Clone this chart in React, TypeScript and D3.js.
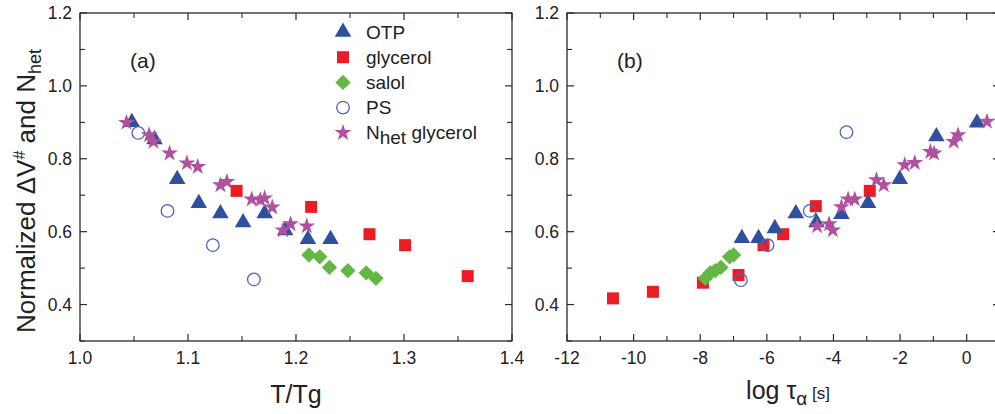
import React from "react";
import * as d3 from "d3";

// panel (a): T/Tg vs normalized value
const otpA = [[1.048, 0.9], [1.069, 0.853], [1.09, 0.744], [1.11, 0.678], [1.13, 0.65], [1.151, 0.625], [1.171, 0.65], [1.19, 0.603], [1.211, 0.579], [1.232, 0.579]];
const glyA = [[1.145, 0.712], [1.214, 0.668], [1.268, 0.593], [1.301, 0.563], [1.359, 0.478]];
const salolA = [[1.212, 0.536], [1.222, 0.531], [1.231, 0.502], [1.248, 0.493], [1.265, 0.487], [1.274, 0.472]];
const psA = [[1.054, 0.871], [1.081, 0.657], [1.123, 0.563], [1.161, 0.469]];
const nhetA = [[1.043, 0.899], [1.064, 0.865], [1.068, 0.847], [1.083, 0.815], [1.099, 0.788], [1.109, 0.778], [1.13, 0.728], [1.136, 0.737], [1.159, 0.689], [1.167, 0.687], [1.171, 0.692], [1.178, 0.667], [1.188, 0.604], [1.195, 0.621], [1.21, 0.615]];

// panel (b): log tau_alpha vs normalized value
const otpB = [[-6.75, 0.582], [-6.25, 0.582], [-5.76, 0.609], [-5.13, 0.65], [-4.51, 0.625], [-3.76, 0.648], [-2.96, 0.678], [-2.01, 0.744], [-0.91, 0.861], [0.31, 0.899]];
const glyB = [[-10.62, 0.417], [-9.42, 0.435], [-7.92, 0.46], [-6.85, 0.481], [-6.1, 0.563], [-5.51, 0.593], [-4.53, 0.67], [-2.91, 0.712]];
const salolB = [[-7.85, 0.472], [-7.7, 0.487], [-7.55, 0.493], [-7.38, 0.502], [-7.12, 0.531], [-7.0, 0.536]];
const psB = [[-3.61, 0.873], [-4.71, 0.657], [-5.98, 0.563], [-6.78, 0.467]];
const nhetB = [[-4.49, 0.615], [-4.13, 0.621], [-4.02, 0.604], [-3.76, 0.668], [-3.56, 0.689], [-3.36, 0.689], [-2.71, 0.742], [-2.49, 0.728], [-1.86, 0.783], [-1.56, 0.789], [-1.09, 0.819], [-0.98, 0.815], [-0.39, 0.847], [-0.26, 0.865], [0.61, 0.902]];

const yTicks = [0.4, 0.6, 0.8, 1.0, 1.2];
const xTicksA = [1.0, 1.1, 1.2, 1.3, 1.4];
const xTicksB = [-12, -10, -8, -6, -4, -2, 0];
const legendNames = ["OTP", "glycerol", "salol", "PS", "Nhet glycerol"];

const FONT = "Liberation Sans, Arial, sans-serif";
const AXIS = "#2a2a2a";
const C = { otp: "#2f4f9f", gly: "#ec1c24", salol: "#63b843", ps: "#4d63c4", nhet: "#b0509f" };

const triPath = d3.symbol(d3.symbolTriangle, 118)()!;
const sqPath = d3.symbol(d3.symbolSquare, 144)()!;
const diaPath = d3.symbol(d3.symbolDiamond2, 150)()!;
const starPath = d3.symbol(d3.symbolStar, 88)()!;

function Marker({ kind, x, y }: { kind: string; x: number; y: number }) {
  const t = `translate(${x},${y})`;
  if (kind === "otp") return <path d={triPath} transform={t} fill={C.otp} />;
  if (kind === "gly") return <path d={sqPath} transform={t} fill={C.gly} />;
  if (kind === "salol") return <path d={diaPath} transform={t} fill={C.salol} />;
  if (kind === "ps") return <circle cx={x} cy={y} r={6.3} fill="none" stroke={C.ps} strokeWidth={1.3} />;
  return <path d={starPath} transform={t} fill={C.nhet} />;
}

function Panel({ x0, x1, domain, ticks, minor, fmt, series, label }: any) {
  const top = 13, bottom = 341;
  const x = d3.scaleLinear().domain(domain).range([x0, x1]);
  const y = d3.scaleLinear().domain([0.3, 1.2]).range([bottom, top]);
  const yMinor = [0.3, 0.5, 0.7, 0.9, 1.1];
  return (
    <g fontFamily={FONT}>
      {series.map(([kind, pts]: any) => (
        <g key={kind}>
          {pts.map((p: number[], i: number) => (
            <Marker key={i} kind={kind} x={x(p[0])} y={y(p[1])} />
          ))}
        </g>
      ))}
      <rect x={x0} y={top} width={x1 - x0} height={bottom - top} fill="none" stroke={AXIS} strokeWidth={1.3} />
      {ticks.map((t: number) => (
        <g key={t}>
          <line x1={x(t)} x2={x(t)} y1={bottom} y2={bottom - 7} stroke={AXIS} strokeWidth={1.2} />
          <line x1={x(t)} x2={x(t)} y1={top} y2={top + 7} stroke={AXIS} strokeWidth={1.2} />
          <text x={x(t)} y={364} textAnchor="middle" fontSize={17.5} fill="#222">{fmt(t)}</text>
        </g>
      ))}
      {minor.map((t: number) => (
        <g key={t}>
          <line x1={x(t)} x2={x(t)} y1={bottom} y2={bottom - 5} stroke={AXIS} strokeWidth={1.1} />
          <line x1={x(t)} x2={x(t)} y1={top} y2={top + 5} stroke={AXIS} strokeWidth={1.1} />
        </g>
      ))}
      {yTicks.map((t) => (
        <g key={t}>
          <line x1={x0} x2={x0 + 7} y1={y(t)} y2={y(t)} stroke={AXIS} strokeWidth={1.2} />
          <line x1={x1} x2={x1 - 7} y1={y(t)} y2={y(t)} stroke={AXIS} strokeWidth={1.2} />
          <text x={x0 - 8} y={y(t) + 6} textAnchor="end" fontSize={17.5} fill="#222">{t.toFixed(1)}</text>
        </g>
      ))}
      {yMinor.map((t) => (
        <g key={t}>
          <line x1={x0} x2={x0 + 5} y1={y(t)} y2={y(t)} stroke={AXIS} strokeWidth={1.1} />
          <line x1={x1} x2={x1 - 5} y1={y(t)} y2={y(t)} stroke={AXIS} strokeWidth={1.1} />
        </g>
      ))}
      <text x={x0 + 50} y={68} fontSize={21} fill="#222">{label}</text>
    </g>
  );
}

export default function App() {
  const legendKinds = ["otp", "gly", "salol", "ps", "nhet"];
  return (
    <svg width={995} height={414} style={{ position: "absolute", left: 0, top: 0, background: "#fff" }}>
      <Panel x0={80} x1={512} domain={[1.0, 1.4]} ticks={xTicksA} minor={[1.05, 1.15, 1.25, 1.35]}
        fmt={(t: number) => t.toFixed(1)} label="(a)"
        series={[["gly", glyA], ["salol", salolA], ["otp", otpA], ["ps", psA], ["nhet", nhetA]]} />
      <Panel x0={567} x1={1000} domain={[-12, 1]} ticks={xTicksB} minor={[-11, -9, -7, -5, -3, -1]}
        fmt={(t: number) => String(t)} label="(b)"
        series={[["gly", glyB], ["salol", salolB], ["otp", otpB], ["ps", psB], ["nhet", nhetB]]} />

      <g fontFamily={FONT} fill="#222">
        {legendNames.map((n, i) => (
          <g key={n} transform={`translate(0,${32 + i * 25.2})`}>
            <Marker kind={legendKinds[i]} x={343} y={0} />
            {n === "Nhet glycerol" ? (
              <text x={366} y={6.5} fontSize={19}>N<tspan dy={5}>het</tspan><tspan dy={-5}> glycerol</tspan></text>
            ) : (
              <text x={366} y={6.5} fontSize={19}>{n}</text>
            )}
          </g>
        ))}
        <text x={296} y={403} textAnchor="middle" fontSize={25}>T/Tg</text>
        <text x={788} y={399} textAnchor="middle" fontSize={25}>
          log τ<tspan fontSize={19} dy={6}>α</tspan><tspan dy={-6} fontSize={17}> [s]</tspan>
        </text>
        <text transform="translate(35,191) rotate(-90)" textAnchor="middle" fontSize={26}>
          Normalized ΔV<tspan fontSize={16} dy={-10}>#</tspan><tspan dy={10}> and N</tspan><tspan fontSize={18} dy={6}>het</tspan>
        </text>
      </g>
    </svg>
  );
}
